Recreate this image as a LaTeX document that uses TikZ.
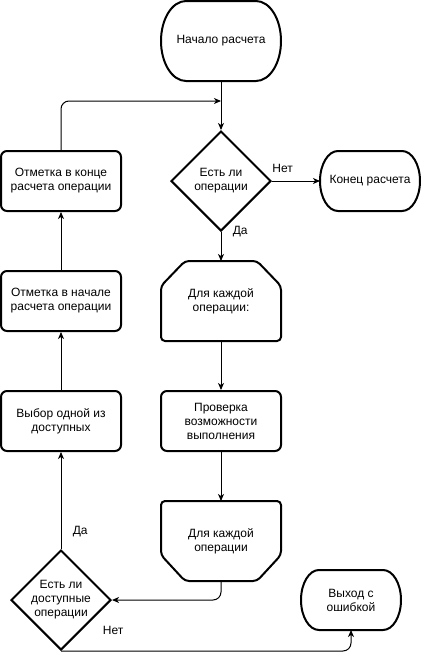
\documentclass[tikz,border=0pt]{standalone}
\usepackage{fontspec}
\setmainfont{Liberation Sans}
\usetikzlibrary{positioning,arrows.meta,shapes.geometric}

% stadium outline with elliptic ends
\newcommand{\termoutline}[3]{%
    \draw[line width=2pt] ([xshift=#2]#1.north west) -- ([xshift=-#2]#1.north east)
        arc[start angle=90, end angle=-90, x radius=#2, y radius=#3]
        -- ([xshift=#2]#1.south west)
        arc[start angle=270, end angle=90, x radius=#2, y radius=#3] -- cycle;}

\begin{document}
\begin{tikzpicture}[node distance=120pt, on grid, auto,
    font=\fontsize{12}{14}\selectfont,
    term/.style={minimum width=120pt, minimum height=80pt, outer sep=0pt, align=center},
    smallterm/.style={term, minimum width=100pt, minimum height=60pt},
    proc/.style={draw, line width=2pt, rounded corners=6pt, minimum width=120pt, minimum height=60pt, align=center},
    dec/.style={draw, diamond, line width=2pt, minimum width=100pt, minimum height=100pt, inner sep=0pt, align=center},
    loopbox/.style={minimum width=120pt, minimum height=80pt, outer sep=0pt, align=center},
    loopline/.style={line width=2pt, rounded corners=4pt},
    flow/.style={-{Stealth[length=7pt,width=6pt,inset=2pt]}, line width=1pt}]

    \useasboundingbox (0,0) rectangle (421pt,-659pt);

    \node[term] (start) at (221pt,-41pt) {Начало расчета};
    \node[dec] (ops) [below=140pt of start] {Есть ли\\операции};
    \node[smallterm] (finish) [right=149pt of ops] {Конец расчета};
    \node[loopbox] (forbeg) [below=of ops] {Для каждой\\операции:};
    \node[proc] (check) [below=of forbeg] {Проверка\\возможности\\выполнения};
    \node[loopbox] (forend) [below=of check] {Для каждой\\операции};

    \node[proc] (markend) [left=160pt of ops] {Отметка в конце\\расчета операции};
    \node[proc] (markbeg) [below=of markend] {Отметка в начале\\расчета операции};
    \node[proc] (choose) [below=of markbeg] {Выбор одной из\\доступных};
    \node[dec] (avail) [below=179pt of choose] {Есть ли\\доступные\\операции};
    \node[smallterm] (error) [right=290pt of avail] {Выход с\\ошибкой};

    \termoutline{start}{25pt}{40pt}
    \termoutline{finish}{18pt}{30pt}
    \termoutline{error}{18pt}{30pt}

    % loop limits
    \draw[loopline] (forbeg.north) -- ([xshift=-24pt]forbeg.north east) -- ([yshift=-25pt]forbeg.north east)
        -- (forbeg.south east) -- (forbeg.south west) -- ([yshift=-25pt]forbeg.north west)
        -- ([xshift=24pt]forbeg.north west) -- cycle;
    \draw[loopline] (forend.north) -- (forend.north east) -- ([yshift=26pt]forend.south east)
        -- ([xshift=-24pt]forend.south east) -- ([xshift=24pt]forend.south west)
        -- ([yshift=26pt]forend.south west) -- (forend.north west) -- cycle;

    \coordinate (join) at ([yshift=-20pt]start.south);

    \draw[flow] (start) -- (ops);
    \draw[flow] (ops) -- node[pos=0.22, above, yshift=5pt] {Нет} (finish);
    \draw[flow] (ops) -- node[pos=0, right, xshift=8pt] {Да} (forbeg);
    \draw[flow] (forbeg) -- (check);
    \draw[flow] (check) -- (forend);
    \draw[flow, rounded corners=8pt] (forend.south) |- (avail.east);
    \draw[flow] (avail) -- node[pos=0.175, right, xshift=8pt] {Да} (choose);
    \draw[flow] (choose) -- (markbeg);
    \draw[flow] (markbeg) -- (markend);
    \draw[flow, rounded corners=8pt] (markend.north) |- (join);
    \draw[flow, rounded corners=8pt] (avail.south) -| node[pos=0.09, above, yshift=13pt] {Нет} (error.south);

\end{tikzpicture}
\end{document}
